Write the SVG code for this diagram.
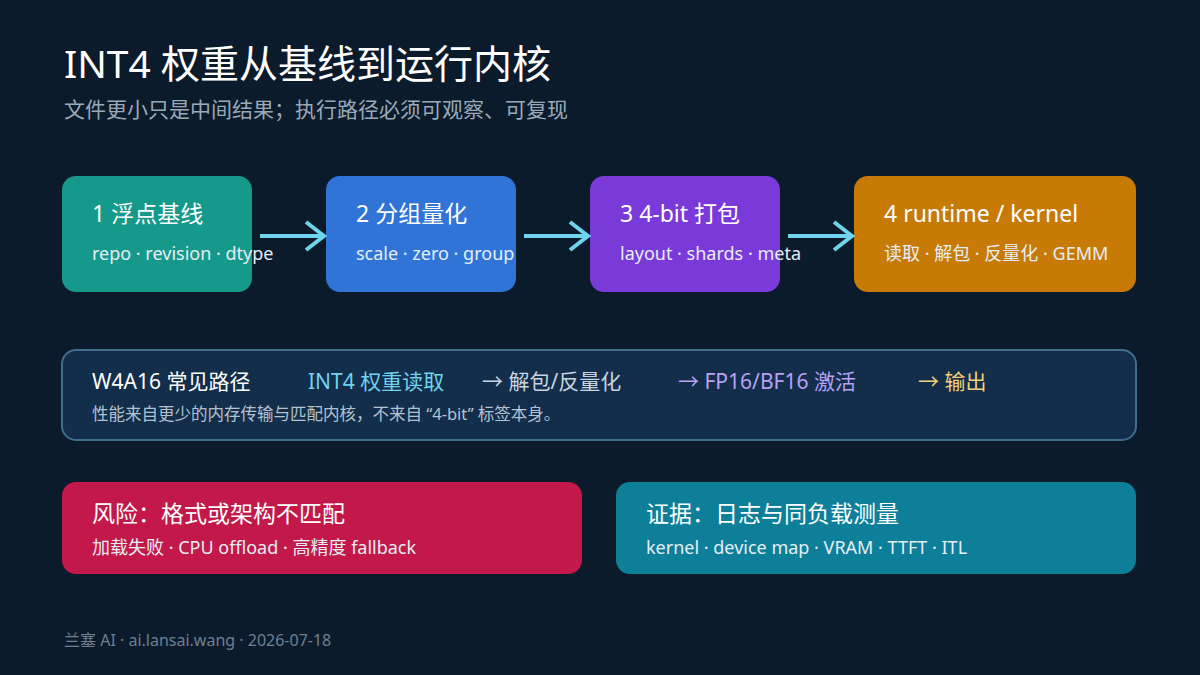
<svg xmlns="http://www.w3.org/2000/svg" width="1200" height="675" viewBox="0 0 1200 675">
<defs>
<style>
text{font-family:"Noto Sans","Noto Sans CJK SC",sans-serif}
.t{font-size:23px;fill:#ffffff}
.s{font-size:18px;fill:#e6eef5}
</style>
</defs>
<rect width="1200" height="675" fill="#0c1b2b"/>
<text x="64" y="78" font-size="39" fill="#ffffff">INT4 权重从基线到运行内核</text>
<text x="64" y="117" font-size="21" fill="#9aa9b8">文件更小只是中间结果；执行路径必须可观察、可复现</text>
<g id="n1"><rect x="62" y="176" width="190" height="116" rx="14" fill="#15998a"/><text class="t" x="92" y="222">1 浮点基线</text><text class="s" x="92" y="260">repo · revision · dtype</text></g>
<g id="n2"><rect x="326" y="176" width="190" height="116" rx="14" fill="#2f74d6"/><text class="t" x="356" y="222">2 分组量化</text><text class="s" x="356" y="260">scale · zero · group</text></g>
<g id="n3"><rect x="590" y="176" width="190" height="116" rx="14" fill="#7a3ad9"/><text class="t" x="620" y="222">3 4-bit 打包</text><text class="s" x="620" y="260">layout · shards · meta</text></g>
<g id="n4"><rect x="854" y="176" width="282" height="116" rx="14" fill="#c77a06"/><text class="t" x="884" y="222">4 runtime / kernel</text><text class="s" x="884" y="260">读取 · 解包 · 反量化 · GEMM</text></g>
<g id="connectors">
<path d="M260,236 H322" stroke="#6fd3ee" stroke-width="4"/><path d="M306,222 L324,236 L306,250" stroke="#6fd3ee" stroke-width="4" fill="none"/>
<path d="M524,236 H586" stroke="#6fd3ee" stroke-width="4"/><path d="M570,222 L588,236 L570,250" stroke="#6fd3ee" stroke-width="4" fill="none"/>
<path d="M788,236 H850" stroke="#6fd3ee" stroke-width="4"/><path d="M834,222 L852,236 L834,250" stroke="#6fd3ee" stroke-width="4" fill="none"/>
</g>
<g id="panel"><rect x="62" y="350" width="1074" height="90" rx="14" fill="#122e4a" stroke="#3f6d8c" stroke-width="2"/>
<text x="92" y="389" font-size="21" fill="#ffffff">W4A16 常见路径</text>
<text x="308" y="389" font-size="21" fill="#6fd3ee">INT4 权重读取</text>
<text x="482" y="389" font-size="21" fill="#c8d4e0">→ 解包/反量化</text>
<text x="678" y="389" font-size="21" fill="#b9a0f5">→ FP16/BF16 激活</text>
<text x="918" y="389" font-size="21" fill="#f0cf78">→ 输出</text>
<text x="92" y="420" font-size="16.5" fill="#b4c2d0">性能来自更少的内存传输与匹配内核，不来自 “4-bit” 标签本身。</text></g>
<g id="risk"><rect x="62" y="482" width="520" height="92" rx="14" fill="#c2184a"/><text class="t" x="92" y="522">风险：格式或架构不匹配</text><text class="s" x="92" y="554">加载失败 · CPU offload · 高精度 fallback</text></g>
<g id="evidence"><rect x="616" y="482" width="520" height="92" rx="14" fill="#0d7f98"/><text class="t" x="646" y="522">证据：日志与同负载测量</text><text class="s" x="646" y="554">kernel · device map · VRAM · TTFT · ITL</text></g>
<text x="64" y="646" font-size="16" fill="#6f7f90">兰塞 AI · ai.lansai.wang · 2026-07-18</text>
</svg>
